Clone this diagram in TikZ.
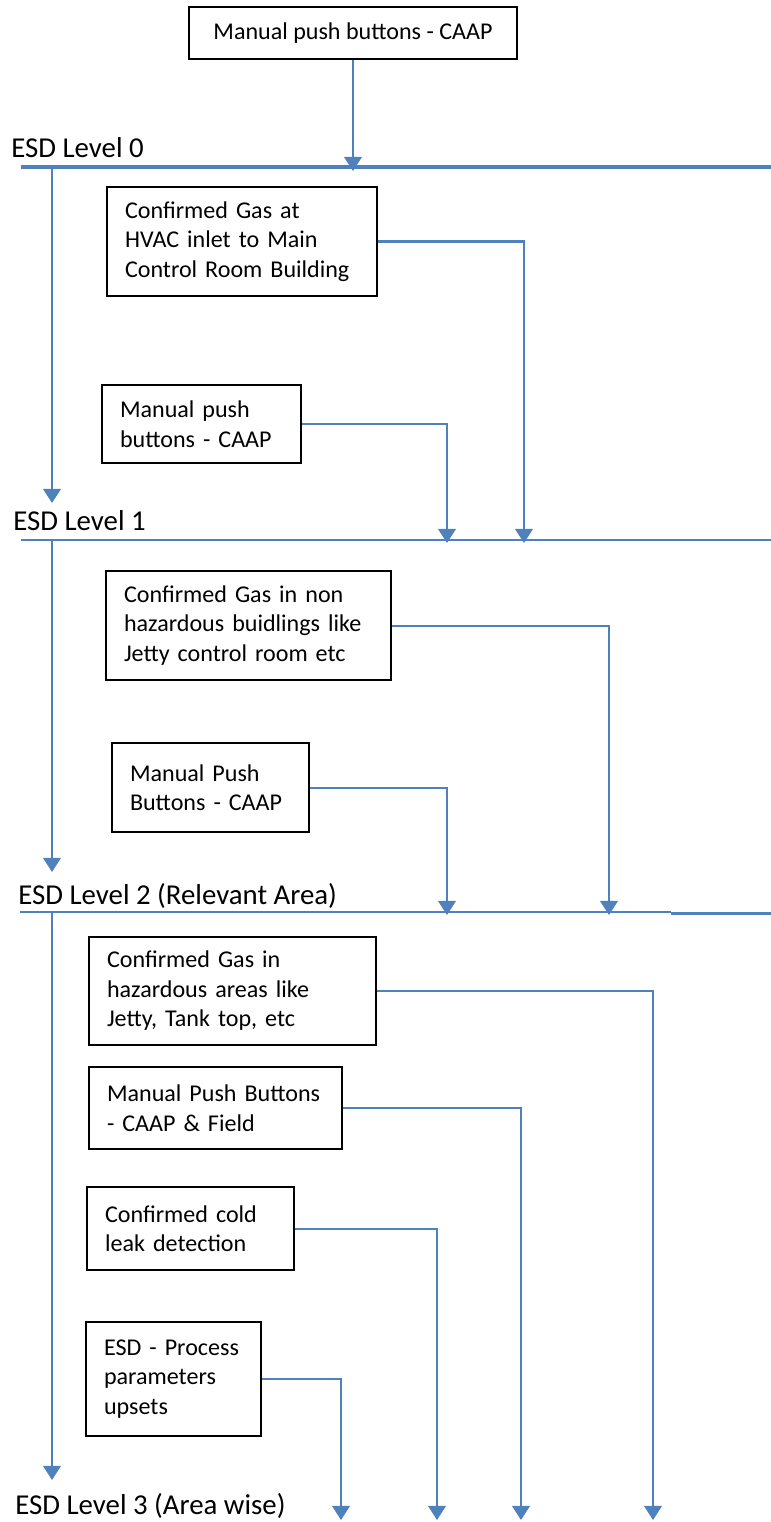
\documentclass[tikz,border=0pt]{standalone}
\usepackage{fontspec}
\setmainfont{Carlito}
\usetikzlibrary{arrows.meta}
\definecolor{esdblue}{RGB}{79,129,189}
\newcommand{\boxfont}{\fontsize{13.7pt}{16.8pt}\selectfont}
\newcommand{\levelfont}{\fontsize{16.4pt}{19pt}\selectfont}

\begin{document}
\begin{tikzpicture}[x=0.02cm, y=-0.02cm,
        box/.style={draw, line width=1.2pt, align=left, inner xsep=0.36cm, font=\boxfont},
        bus/.style={draw=esdblue, line width=1.15pt},
        feed/.style={draw=esdblue, line width=1.15pt, -{Triangle[width=10pt, length=8pt]}},
        level/.style={anchor=base west, inner sep=0pt, font=\levelfont}]
        \useasboundingbox (0, 0) rectangle (771, 1522);

        \node[box, minimum width=6.56cm, minimum height=1.04cm]                   (pbtop)    at (353,   33)   {Manual push buttons - CAAP};
        \node[box, text width=4.68cm, minimum height=2.18cm] (gashvac)  at (242,   241.5) {Confirmed Gas at\\HVAC inlet to Main\\Control Room Building};
        \node[box, text width=3.26cm, minimum height=1.56cm] (pbone)    at (201.5, 424)   {Manual push\\buttons - CAAP};
        \node[box, text width=4.98cm, minimum height=2.18cm] (gasbldg)  at (248.5, 625.5) {Confirmed Gas in non\\hazardous buidlings like\\Jetty control room etc};
        \node[box, text width=3.22cm, minimum height=1.78cm] (pbtwo)    at (210.5, 787.5) {Manual Push\\Buttons - CAAP};
        \node[box, text width=5.02cm, minimum height=2.16cm] (gashaz)   at (232.5, 991)   {Confirmed Gas in\\hazardous areas like\\Jetty, Tank top, etc};
        \node[box, text width=4.34cm, minimum height=1.64cm] (pbfield)  at (215.5, 1108)  {Manual Push Buttons\\- CAAP \& Field};
        \node[box, text width=3.42cm, minimum height=1.66cm] (coldleak) at (190.5, 1228.5) {Confirmed cold\\leak detection};
        \node[box, text width=2.78cm, minimum height=2.28cm] (process)  at (173.5, 1379)  {ESD - Process\\parameters\\upsets};

        \node[level] (lvlzero)  at (11, 157)  {ESD Level 0};
        \node[level] (lvlone)   at (13, 530)  {ESD Level 1};
        \node[level] (lvltwo)   at (18, 904)  {ESD Level 2 (Relevant Area)};
        \node[level] (lvlthree) at (15, 1514) {ESD Level 3 (Area wise)};

        \coordinate (buszeroa) at (21, 167);   \coordinate (buszerob) at (771, 167);
        \coordinate (busonea)  at (21, 540);   \coordinate (busoneb)  at (771, 540);
        \coordinate (bustwoa)  at (20, 912);   \coordinate (bustwom)  at (671, 912);
        \coordinate (bustwoc)  at (671, 913.5); \coordinate (bustwob) at (771, 913.5);

        \coordinate (trunkzero)  at (52, 167);  \coordinate (trunkone)   at (52, 540);
        \coordinate (trunktwo)   at (52, 912);
        \coordinate (tiptop)     at (353, 171);
        \coordinate (tiponeleft) at (52, 503);  \coordinate (tiptwoleft) at (52, 872);
        \coordinate (tipthrleft) at (52, 1480);
        \coordinate (tiponea)    at (447, 543); \coordinate (tiponeb)    at (524, 543);
        \coordinate (tiptwoa)    at (447, 915); \coordinate (tiptwob)    at (609, 915);
        \coordinate (tipthra)    at (341, 1520); \coordinate (tipthrb)   at (437, 1520);
        \coordinate (tipthrc)    at (521, 1520); \coordinate (tipthrd)   at (653, 1520);

        \draw[bus, line width=2.5pt] (buszeroa) -- (buszerob);
        \draw[bus]                   (busonea)  -- (busoneb);
        \draw[bus]                   (bustwoa)  -- (bustwom);
        \draw[bus, line width=2.2pt] (bustwoc)  -- (bustwob);

        \draw[feed] (pbtop.south) -- (tiptop);
        \draw[feed] (trunkzero) -- (tiponeleft);
        \draw[feed] (trunkone)  -- (tiptwoleft);
        \draw[feed] (trunktwo)  -- (tipthrleft);

        \draw[feed] (gashvac.east)  -| (tiponeb);
        \draw[feed] (pbone.east)    -| (tiponea);
        \draw[feed] (gasbldg.east)  -| (tiptwob);
        \draw[feed] (pbtwo.east)    -| (tiptwoa);
        \draw[feed] (gashaz.east)   -| (tipthrd);
        \draw[feed] (pbfield.east)  -| (tipthrc);
        \draw[feed] (coldleak.east) -| (tipthrb);
        \draw[feed] (process.east)  -| (tipthra);
    \end{tikzpicture}
\end{document}
